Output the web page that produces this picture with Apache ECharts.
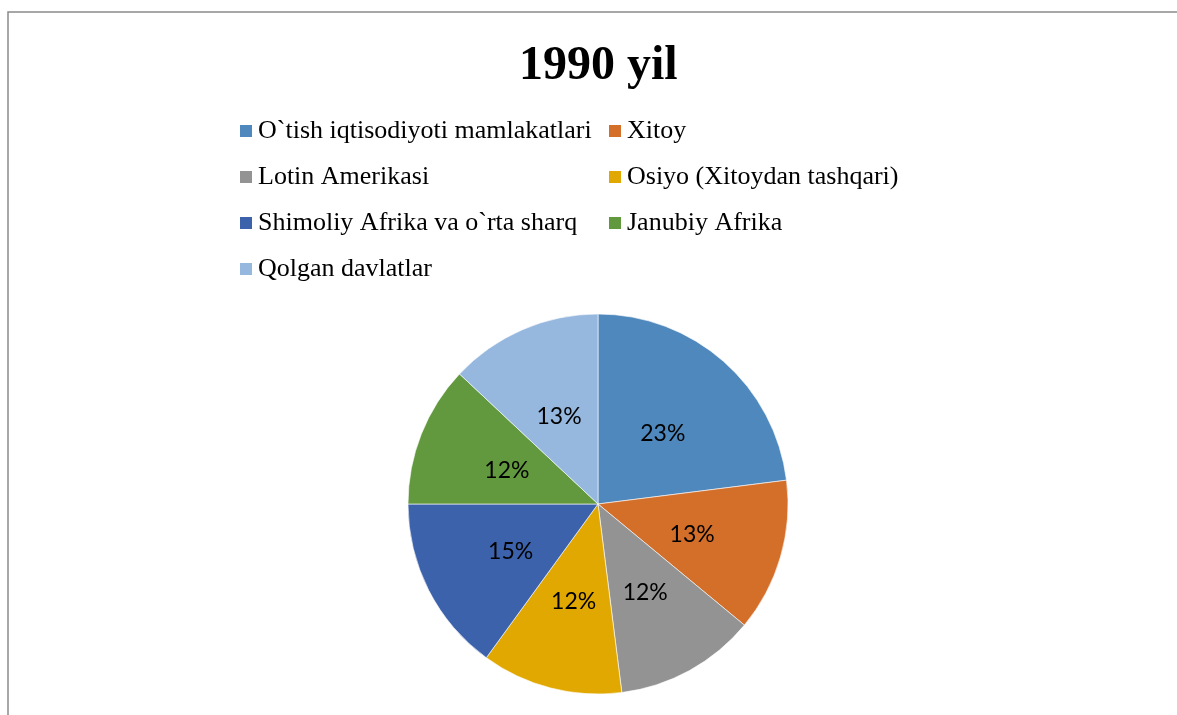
<!DOCTYPE html>
<html>
<head>
<meta charset="utf-8">
<title>1990 yil</title>
<script src="https://cdn.jsdelivr.net/npm/echarts@6/dist/echarts.min.js"></script>
<style>
  html, body { margin: 0; padding: 0; background: #fff; }
  #chart { width: 1177px; height: 715px; }
</style>
</head>
<body>
<div id="chart"></div>
<script>
// region names and shares for 1990 (percent)
const regions = [
  'O`tish iqtisodiyoti mamlakatlari',
  'Xitoy',
  'Lotin Amerikasi',
  'Osiyo (Xitoydan tashqari)',
  'Shimoliy Afrika va o`rta sharq',
  'Janubiy Afrika',
  'Qolgan davlatlar'
];
const shares = [23, 13, 12, 12, 15, 12, 13];
const colors = ['#4f88bc', '#d46f2a', '#939393', '#e0a800', '#3c62ab', '#62993e', '#96b7de'];

const chart = echarts.init(document.getElementById('chart'));

const legendText = {
  fontFamily: '"Liberation Serif", "Times New Roman", serif',
  fontSize: 26,
  lineHeight: 26,
  color: '#000'
};

const option = {
  animation: false,
  color: colors,
  title: {
    text: '1990 yil',
    left: 514,
    top: 38,
    textStyle: {
      fontFamily: '"Liberation Serif", "Times New Roman", serif',
      fontSize: 48,
      fontWeight: 'bold',
      color: '#000'
    }
  },
  graphic: [{
    type: 'rect',
    shape: { x: 8, y: 12, width: 1200, height: 720 },
    style: { fill: 'none', stroke: '#8a8a8a', lineWidth: 1.5 },
    silent: true
  }],
  legend: [
    {
      orient: 'vertical',
      left: 238,
      top: 118,
      itemWidth: 14,
      itemHeight: 14,
      itemGap: 20,
      icon: 'rect',
      padding: 0,
      textStyle: legendText,
      data: [regions[0], regions[2], regions[4], regions[6]]
    },
    {
      orient: 'vertical',
      left: 607,
      top: 118,
      itemWidth: 14,
      itemHeight: 14,
      itemGap: 20,
      icon: 'rect',
      padding: 0,
      textStyle: legendText,
      data: [regions[1], regions[3], regions[5]]
    }
  ],
  series: [
    {
      type: 'pie',
      center: [598, 504],
      radius: 190,
      startAngle: 90,
      clockwise: true,
      avoidLabelOverlap: false,
      itemStyle: { borderColor: '#ffffff', borderWidth: 0.6 },
      label: {
        show: true,
        position: 'inside',
        formatter: '{d}%',
        fontFamily: 'Lato, "Open Sans", sans-serif',
        fontSize: 23,
        color: '#000',
        offset: [0, 3]
      },
      labelLine: { show: false },
      emphasis: { scale: false },
      data: regions.map((name, i) => ({ name: name, value: shares[i] }))
    }
  ]
};

chart.setOption(option);
</script>
</body>
</html>
